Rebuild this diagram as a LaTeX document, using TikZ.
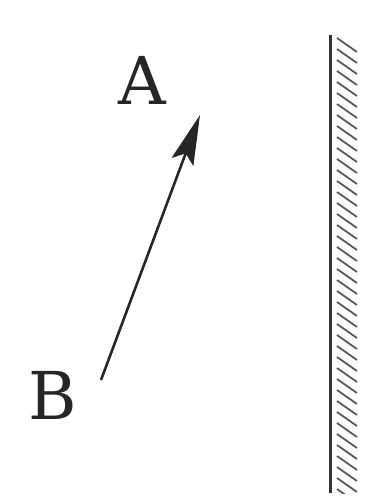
\documentclass[tikz,border=0pt]{standalone}
\usepackage{fontspec}
\setmainfont{DejaVu Serif}
\usetikzlibrary{arrows.meta}
\begin{document}
\begin{tikzpicture}[x=1pt,y=-1pt,
  lbl/.style={font=\fontsize{66}{66}\selectfont, inner sep=0pt, text=black!85},
  wall/.style={line width=3pt, draw=black!80},
  hatch/.style={line width=1.8pt, draw=black!65},
  vec/.style={line width=2.6pt, draw=black!85, -{Stealth[length=50pt,width=23pt,inset=9pt]}}]
\useasboundingbox (0,0) rectangle (366,496);
\node[lbl] (A) at (142,80) {A};
\node[lbl] (B) at (53,395) {B};
\coordinate (tail) at (101,380);
\coordinate (tip) at (200,115);
\draw[vec] (tail) -- (tip);
\coordinate (wtop) at (330,35);
\coordinate (wbot) at (330,493);
\draw[wall] (wtop) -- (wbot);
\begin{scope}
\clip (332,35) rectangle (366,493);
\foreach \y in {38,49,...,500} {
  \draw[hatch] (337,\y) -- (357,\y+14);
}
\end{scope}
\end{tikzpicture}
\end{document}
